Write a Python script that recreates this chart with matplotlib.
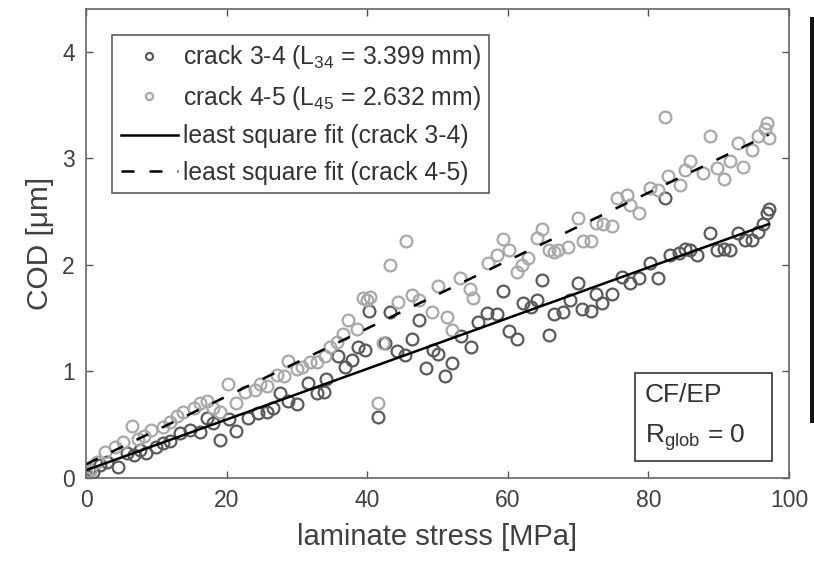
import matplotlib
matplotlib.use("Agg")
import matplotlib.pyplot as plt
import numpy as np
from matplotlib.patches import Rectangle

# crack 3-4 (darker markers)
stress_34 = [0.1, 0.4, 1.0, 2.0, 3.0, 4.6, 5.8, 6.8, 7.7, 8.6, 10.0, 11.0, 11.9, 13.4,
             14.8, 16.2, 17.2, 18.1, 19.0, 20.3, 21.4, 23.1, 24.5, 25.7, 26.6, 27.6,
             28.8, 30.0, 31.6, 32.8, 33.8, 34.2, 35.9, 36.8, 37.8, 38.7, 39.7, 40.3,
             41.5, 42.5, 43.2, 44.3, 45.4, 46.3, 47.3, 48.3, 49.4, 50.1, 51.1, 52.0,
             53.3, 54.7, 55.8, 57.1, 58.5, 59.3, 60.1, 61.3, 62.2, 63.3, 64.1, 64.9,
             65.8, 66.5, 67.9, 68.8, 70.0, 70.5, 71.9, 72.6, 73.4, 74.8, 76.2, 77.4,
             78.6, 80.2, 81.4, 82.4, 83.1, 84.3, 85.2, 85.9, 86.9, 88.8, 89.7, 90.7,
             91.6, 92.8, 93.7, 94.7, 95.6, 96.3, 96.8, 97.1]
cod_34 = [0.02, 0.08, 0.06, 0.12, 0.15, 0.10, 0.23, 0.22, 0.26, 0.23, 0.29, 0.33, 0.35, 0.42,
          0.45, 0.43, 0.56, 0.52, 0.36, 0.55, 0.44, 0.56, 0.61, 0.62, 0.66, 0.80,
          0.72, 0.69, 0.89, 0.80, 0.81, 0.93, 1.14, 1.04, 1.11, 1.23, 1.20, 1.57,
          0.57, 1.27, 1.56, 1.19, 1.15, 1.30, 1.48, 1.03, 1.20, 1.16, 0.96, 1.08,
          1.33, 1.23, 1.46, 1.55, 1.54, 1.75, 1.375, 1.30, 1.64, 1.60, 1.67, 1.86,
          1.345, 1.54, 1.56, 1.67, 1.83, 1.59, 1.57, 1.73, 1.64, 1.73, 1.89, 1.83,
          1.88, 2.015, 1.88, 2.625, 2.09, 2.11, 2.15, 2.14, 2.09, 2.30, 2.14, 2.15,
          2.14, 2.30, 2.23, 2.23, 2.31, 2.38, 2.49, 2.52]

# crack 4-5 (lighter markers)
stress_45 = [0.0, 0.1, 0.6, 1.5, 2.7, 4.1, 5.3, 6.5, 7.4, 8.3, 9.3, 11.0, 11.9, 12.9,
             13.8, 15.3, 16.2, 17.2, 18.1, 19.1, 20.2, 21.4, 22.6, 24.0, 24.8, 25.7,
             27.1, 28.1, 28.8, 30.0, 30.7, 31.8, 32.8, 34.0, 34.7, 35.7, 36.6, 37.3,
             38.5, 39.4, 39.9, 40.4, 41.6, 42.3, 43.2, 44.4, 45.5, 46.3, 47.3, 49.2,
             50.1, 51.3, 52.1, 53.2, 54.6, 55.0, 57.2, 58.4, 59.3, 60.1, 61.3, 62.0,
             62.9, 64.1, 64.8, 65.8, 66.5, 67.2, 68.6, 70.0, 70.7, 71.9, 72.6, 73.6,
             74.8, 75.5, 76.9, 77.4, 78.6, 80.2, 81.4, 82.4, 82.8, 84.5, 85.2, 85.9,
             87.8, 88.8, 89.7, 90.7, 91.6, 92.8, 93.5, 94.7, 95.6, 96.6, 96.8, 97.1]
cod_45 = [0.0, 0.04, 0.07, 0.15, 0.24, 0.29, 0.34, 0.49, 0.37, 0.39, 0.45, 0.48, 0.53, 0.58,
          0.62, 0.66, 0.70, 0.72, 0.66, 0.62, 0.88, 0.70, 0.81, 0.83, 0.88, 0.86,
          0.97, 0.96, 1.10, 1.02, 1.04, 1.09, 1.09, 1.14, 1.23, 1.28, 1.35, 1.48,
          1.40, 1.69, 1.67, 1.70, 0.70, 1.27, 1.995, 1.65, 2.22, 1.72, 1.67, 1.56,
          1.80, 1.51, 1.385, 1.88, 1.77, 1.69, 2.015, 2.09, 2.24, 2.14, 1.935, 1.995,
          2.06, 2.25, 2.34, 2.14, 2.12, 2.14, 2.17, 2.44, 2.22, 2.22, 2.39, 2.38,
          2.36, 2.625, 2.655, 2.565, 2.49, 2.72, 2.70, 3.39, 2.83, 2.75, 2.89, 2.97,
          2.86, 3.21, 2.91, 2.81, 2.97, 3.14, 2.92, 3.08, 3.21, 3.27, 3.33, 3.19]

labels = ["crack 3-4 (L$_{34}$ = 3.399 mm)", "crack 4-5 (L$_{45}$ = 2.632 mm)",
          "least square fit (crack 3-4)", "least square fit (crack 4-5)"]

plt.rcParams['font.family'] = ['Liberation Sans', 'DejaVu Sans']
plt.rcParams['mathtext.fontset'] = 'custom'
plt.rcParams['mathtext.rm'] = 'Liberation Sans'
plt.rcParams['mathtext.it'] = 'Liberation Sans:italic'
plt.rcParams['mathtext.default'] = 'regular'

txt_col = '#404040'
dark = '#5a5a5a'
light = '#a8a8a8'

fig = plt.figure(figsize=(8.14, 5.66), dpi=100)
ax = fig.add_axes([0.1057, 0.1555, 0.8636, 0.8285])

ax.plot(stress_34, cod_34, 'o', mfc='none', mec=dark, ms=8.5, mew=1.6, label=labels[0])
ax.plot(stress_45, cod_45, 'o', mfc='none', mec=light, ms=8.5, mew=1.6, label=labels[1])

# linear least-squares fits over the measured range
x34 = np.array(stress_34)
x45 = np.array(stress_45)
p34 = np.polyfit(x34, cod_34, 1)
p45 = np.polyfit(x45, cod_45, 1)
xf34 = np.array([0, x34.max()])
xf45 = np.array([0, x45.max()])
ax.plot(xf34, np.polyval(p34, xf34), '-', color='black', lw=1.8, label=labels[2])
ax.plot(xf45, np.polyval(p45, xf45), '--', color='black', lw=1.8, dashes=(5.2, 6), label=labels[3])

ax.set_xlim(0, 100)
ax.set_ylim(0, 4.4)
ax.set_xticks([0, 20, 40, 60, 80, 100])
ax.set_yticks([0, 1, 2, 3, 4])
ax.tick_params(direction='in', top=True, right=True, length=5, width=1,
               colors='#555555', labelcolor=txt_col, labelsize=16.5, pad=8)
for s in ax.spines.values():
    s.set_color('#666666')
    s.set_linewidth(1.2)

ax.set_xlabel('laminate stress [MPa]', fontsize=21, color=txt_col, labelpad=8)
ax.set_ylabel('COD [μm]', fontsize=21.5, color=txt_col, labelpad=6)

leg = ax.legend(loc='upper left', bbox_to_anchor=(0.037, 0.945), fontsize=17.8,
                frameon=True, fancybox=False, handlelength=2.3, handletextpad=0.2,
                labelspacing=0.5, borderpad=0.35, borderaxespad=0, markerscale=0.6)
leg.get_frame().set_edgecolor('#333333')
leg.get_frame().set_linewidth(1.2)
for t in leg.get_texts():
    t.set_color('#333333')

# material / load ratio annotation box
ax.add_patch(Rectangle((0.781, 0.036), 0.195, 0.188, transform=ax.transAxes,
                       fc='white', ec='#333333', lw=1.2, zorder=5))
ax.text(0.795, 0.177, 'CF/EP', transform=ax.transAxes, fontsize=19,
        color='#333333', ha='left', va='center', zorder=6)
ax.text(0.795, 0.087, 'R$_{glob}$ = 0', transform=ax.transAxes, fontsize=19,
        color='#333333', ha='left', va='center', zorder=6)

# dark strip along the right border
fig.add_artist(Rectangle((810 / 814, 1 - 423 / 566), 4 / 814, 406 / 566,
                         transform=fig.transFigure, color='#141414', lw=0))

fig.savefig('out.png', dpi=100)
